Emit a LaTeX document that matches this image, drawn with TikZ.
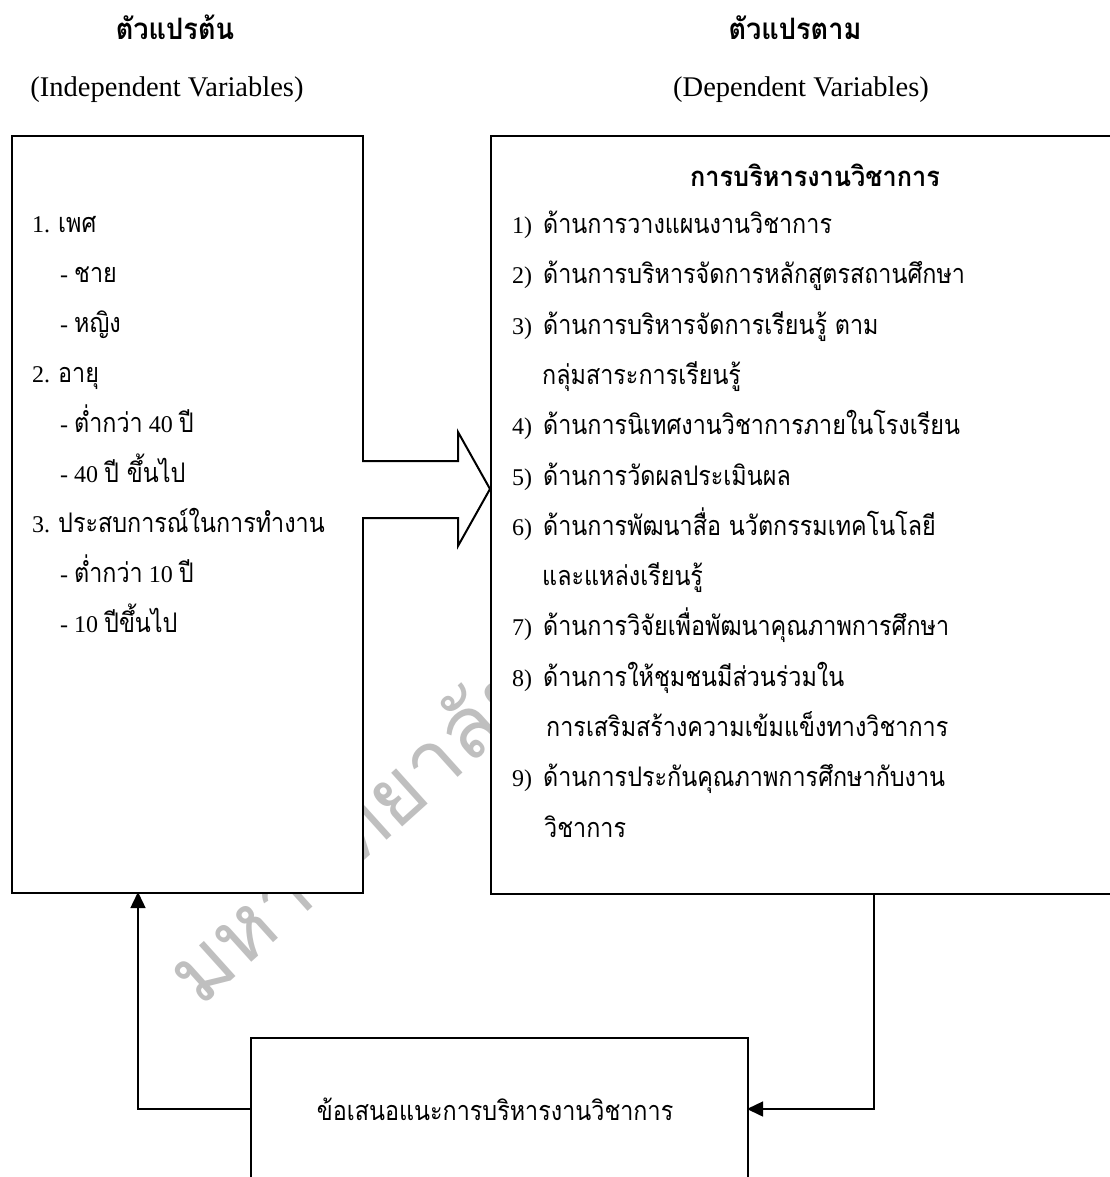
\documentclass[tikz,border=0pt]{standalone}
\usepackage{fontspec}
\setmainfont{Liberation Serif}
\newfontfamily\thaif[Script=Thai,FakeStretch=0.865]{Loma}
\newfontfamily\thaih[Script=Thai,FakeStretch=0.92]{Loma}
\newfontfamily\wmfont[Script=Thai]{Loma}
\usetikzlibrary{arrows.meta}
\newcommand\thx[1]{{\thaif\fontsize{27}{27}\selectfont #1}}
\newcommand\thb[1]{{\thaih\bfseries\fontsize{29.5}{29.5}\selectfont #1}}
\newcommand\thbs[1]{{\thaih\bfseries\fontsize{27.5}{27.5}\selectfont #1}}
\newcommand\numbox[1]{\makebox[31pt][l]{#1}}
\begin{document}
\begin{tikzpicture}[x=1pt,y=-1pt,
  boxst/.style={draw=black, line width=2pt, fill=white, inner sep=0pt, anchor=north west},
  itm/.style={anchor=base west, inner sep=0pt, font=\fontsize{24}{24}\selectfont},
  head/.style={anchor=base, inner sep=0pt, font=\fontsize{28.5}{28.5}\selectfont},
  fb/.style={draw=black, line width=1.5pt, -{Triangle[width=15pt,length=16pt]}},
  blockarrow/.style={draw=black, line width=2pt, fill=white, line join=miter}
]
\useasboundingbox (0,0) rectangle (1110,1177);

% watermark (mostly hidden behind the boxes)
\node[anchor=base west, inner sep=0pt, rotate=42, text=black!25,
      font=\wmfont\fontsize{85}{85}\selectfont] (wm) at (200,1009) {มหาวิทยาลัย};

% headings
\node[head] (h1) at (175,40) {\thb{ตัวแปรต้น}};
\node[head] (h2) at (167,97) {(Independent Variables)};
\node[head] (h3) at (795,40) {\thb{ตัวแปรตาม}};
\node[head] (h4) at (801,97) {(Dependent Variables)};

% boxes
\node[boxst, minimum width=351pt, minimum height=757pt] (lbox) at (11,135) {};
\node[boxst, minimum width=630pt, minimum height=758pt] (rbox) at (490,135) {};
\node[boxst, minimum width=497pt, minimum height=220pt] (sug) at (250,1037) {};

% block arrow
\draw[blockarrow] (362,461) -- (458,461) -- (458,432) -- (490,489) -- (458,546) -- (458,518) -- (362,518);

% left list
\node[itm] (l1) at (32,232)   {1. \thx{เพศ}};
\node[itm] (l2) at (60,282)   {- \thx{ชาย}};
\node[itm] (l3) at (60,332)   {- \thx{หญิง}};
\node[itm] (l4) at (32,382)   {2. \thx{อายุ}};
\node[itm] (l5) at (60,432)   {- \thx{ต่ำกว่า} 40 \thx{ปี}};
\node[itm] (l6) at (60,482)   {- 40 \thx{ปี ขึ้นไป}};
\node[itm] (l7) at (32,532)   {3. \thx{ประสบการณ์ในการทำงาน}};
\node[itm] (l8) at (60,582)   {- \thx{ต่ำกว่า} 10 \thx{ปี}};
\node[itm] (l9) at (60,632)   {- 10 \thx{ปีขึ้นไป}};

% right list
\node[anchor=base, inner sep=0pt] (rt) at (815,186) {\thbs{การบริหารงานวิชาการ}};
\node[itm] (r1)  at (512,233) {\numbox{1)}\thx{ด้านการวางแผนงานวิชาการ}};
\node[itm] (r2)  at (512,283) {\numbox{2)}\thx{ด้านการบริหารจัดการหลักสูตรสถานศึกษา}};
\node[itm] (r3)  at (512,334) {\numbox{3)}\thx{ด้านการบริหารจัดการเรียนรู้ ตาม}};
\node[itm] (r3b) at (542,384) {\thx{กลุ่มสาระการเรียนรู้}};
\node[itm] (r4)  at (512,434) {\numbox{4)}\thx{ด้านการนิเทศงานวิชาการภายในโรงเรียน}};
\node[itm] (r5)  at (512,485) {\numbox{5)}\thx{ด้านการวัดผลประเมินผล}};
\node[itm] (r6)  at (512,535) {\numbox{6)}\thx{ด้านการพัฒนาสื่อ นวัตกรรมเทคโนโลยี}};
\node[itm] (r6b) at (542,585) {\thx{และแหล่งเรียนรู้}};
\node[itm] (r7)  at (512,635) {\numbox{7)}\thx{ด้านการวิจัยเพื่อพัฒนาคุณภาพการศึกษา}};
\node[itm] (r8)  at (512,686) {\numbox{8)}\thx{ด้านการให้ชุมชนมีส่วนร่วมใน}};
\node[itm] (r8b) at (546,736) {\thx{การเสริมสร้างความเข้มแข็งทางวิชาการ}};
\node[itm] (r9)  at (512,786) {\numbox{9)}\thx{ด้านการประกันคุณภาพการศึกษากับงาน}};
\node[itm] (r9b) at (544,837) {\thx{วิชาการ}};

% bottom box text
\node[anchor=base, inner sep=0pt] (st) at (495,1120) {\thx{ข้อเสนอแนะการบริหารงานวิชาการ}};

% feedback connectors
\coordinate (rb) at (874,893);
\coordinate (se) at (747,1109);
\coordinate (sw) at (250,1109);
\coordinate (lb) at (138,892);
\draw[fb] (rb) |- (se);
\draw[fb] (sw) -| (lb);
\end{tikzpicture}
\end{document}
